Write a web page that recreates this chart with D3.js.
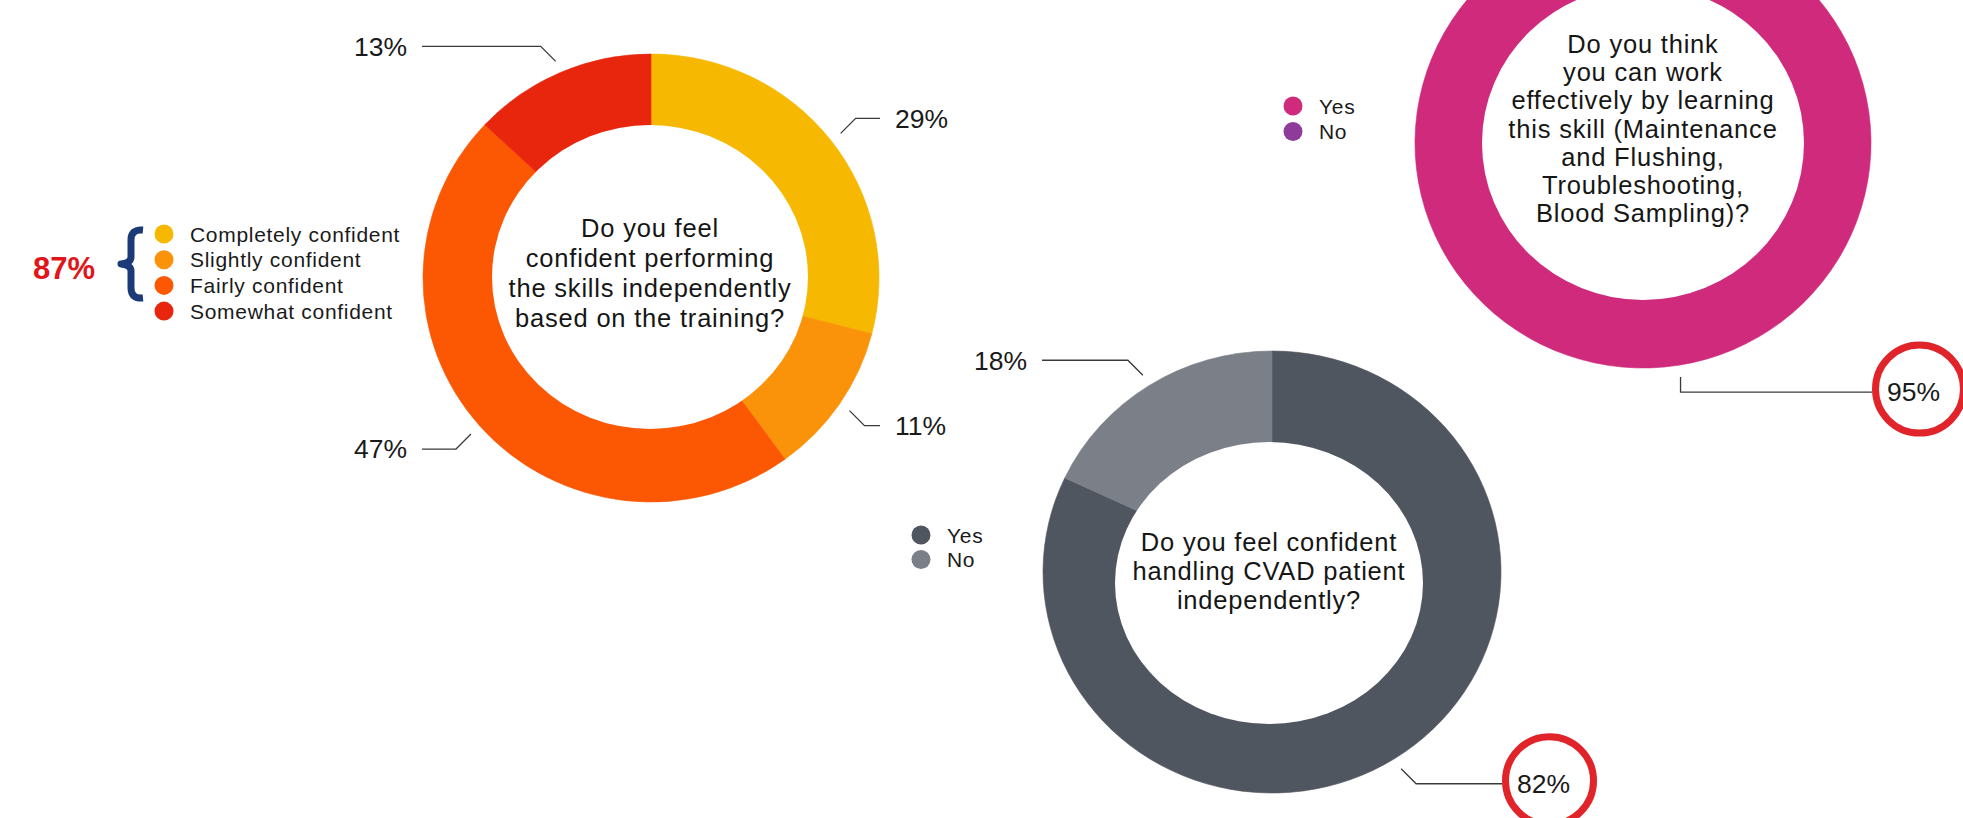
<!DOCTYPE html>
<html><head><meta charset="utf-8">
<script src="https://cdn.jsdelivr.net/npm/d3@7"></script>
<style>
html,body{margin:0;padding:0;background:#fff;}
svg{display:block;font-family:"Liberation Sans",Arial,Helvetica,sans-serif;}
</style>
</head><body>
<svg id="chart" width="1963" height="818"></svg>
<script>
// ---------------- data ----------------
const confidenceLevels = ["Completely confident", "Slightly confident", "Fairly confident", "Somewhat confident"];
const confidenceShares = [29, 11, 47, 13];
const confidenceQuestion = ["Do you feel", "confident performing", "the skills independently", "based on the training?"];
const confidentGroupTotal = "87%";

const cvadAnswers = ["Yes", "No"];
const cvadShares = [82, 18];
const cvadQuestion = ["Do you feel confident", "handling CVAD patient", "independently?"];

const skillAnswers = ["Yes", "No"];
const skillShares = [95, 5];
const skillQuestion = ["Do you think", "you can work", "effectively by learning", "this skill (Maintenance", "and Flushing,", "Troubleshooting,", "Blood Sampling)?"];

// ---------------- styles / layout ----------------
const confidenceColors = ["#F6B800", "#FA930A", "#FC5703", "#E8260E"];
const cvadColors = ["#50565F", "#7A7F88"];
const skillColors = ["#CF2A7C", "#8E3B9A"];

const charts = [
  { cats: confidenceLevels, vals: confidenceShares, colors: confidenceColors,
    cx: 651, cy: 278, rx: 228, ry: 224, hole: {dx: -1, dy: -1, rx: 158, ry: 152},
    question: confidenceQuestion, qFirst: -41, qGap: 30,
    labelled: confidenceLevels, ring: [], style: "elbow",
    legend: {x: 164, y: 234, step: 25.7} },
  { cats: cvadAnswers, vals: cvadShares, colors: cvadColors,
    cx: 1272, cy: 572, rx: 229, ry: 221, hole: {dx: -3, dy: 11, rx: 154, ry: 141},
    question: cvadQuestion, qFirst: -21, qGap: 29,
    labelled: cvadAnswers, ring: ["Yes"], style: "elbow",
    legend: {x: 921, y: 535, step: 24.5} },
  { cats: skillAnswers, vals: skillShares, colors: skillColors,
    cx: 1643, cy: 143, rx: 228, ry: 225, hole: {dx: 0, dy: 0, rx: 161, ry: 157},
    question: skillQuestion, qFirst: -90, qGap: 28.2,
    labelled: ["Yes"], ring: ["Yes"], style: "drop",
    legend: {x: 1293, y: 106, step: 25.5} }
];

const svg = d3.select("#chart");
svg.append("rect").attr("width", 1963).attr("height", 818).attr("fill", "#fff");

const pie = d3.pie().sort(null).value(d => d.v).startAngle(0).endAngle(2 * Math.PI);

charts.forEach(ch => {
  const data = ch.cats.map((c, i) => ({c, v: ch.vals[i], col: ch.colors[i]}));
  const arcs = pie(data);
  const arc = d3.arc().innerRadius(0).outerRadius(ch.ry);

  const g = svg.append("g")
    .attr("transform", `translate(${ch.cx},${ch.cy}) scale(${ch.rx / ch.ry},1)`);
  g.selectAll("path").data(arcs).join("path")
    .attr("d", arc)
    .attr("fill", d => d.data.col)
    .attr("stroke", d => d.data.col)
    .attr("stroke-width", 0.6);

  // hole
  svg.append("ellipse")
    .attr("cx", ch.cx + ch.hole.dx).attr("cy", ch.cy + ch.hole.dy)
    .attr("rx", ch.hole.rx).attr("ry", ch.hole.ry)
    .attr("fill", "#fff");

  // center question
  const t = svg.append("text")
    .attr("text-anchor", "middle")
    .attr("font-size", 25.5).attr("letter-spacing", 0.8)
    .attr("fill", "#161616");
  ch.question.forEach((line, i) => {
    t.append("tspan").attr("x", ch.cx + ch.hole.dx).attr("y", ch.cy + ch.qFirst + i * ch.qGap).text(line);
  });

  // labels with leader lines
  arcs.filter(a => ch.labelled.includes(a.data.c)).forEach(a => {
    const m = (a.startAngle + a.endAngle) / 2;
    const s = Math.sin(m), c = Math.cos(m);
    const x1 = ch.cx + (ch.rx + 12) * s, y1 = ch.cy - (ch.ry + 12) * c;
    const side = s >= 0 ? 1 : -1;
    let x2, y2;
    if (ch.style === "drop") { x2 = x1; y2 = y1 + 15; }
    else { x2 = x1 + side * 15; y2 = y1 + (c >= 0 ? -15 : 15); }
    const x3 = ch.cx + side * (ch.rx + 1);
    svg.append("path")
      .attr("d", d3.line()([[x1, y1], [x2, y2], [x3, y2]]))
      .attr("fill", "none").attr("stroke", "#3a3a3a").attr("stroke-width", 1.3);
    const lab = svg.append("text")
      .attr("x", ch.cx + side * (ch.rx + 16)).attr("y", y2).attr("dy", "0.35em")
      .attr("text-anchor", side > 0 ? "start" : "end")
      .attr("font-size", 26.5).attr("fill", "#1a1a1a")
      .text(a.data.v + "%");
    if (ch.ring.includes(a.data.c)) {
      svg.append("circle")
        .attr("cx", x3 + 47.5).attr("cy", y2 - 3).attr("r", 44)
        .attr("fill", "none").attr("stroke", "#E0242A").attr("stroke-width", 7);
      lab.raise();
    }
  });

  // legend
  const lg = svg.append("g");
  data.forEach((d, i) => {
    const y = ch.legend.y + i * ch.legend.step;
    lg.append("circle").attr("cx", ch.legend.x).attr("cy", y).attr("r", 9.5).attr("fill", d.col);
    lg.append("text").attr("x", ch.legend.x + 26).attr("y", y).attr("dy", "0.36em")
      .attr("font-size", 21).attr("letter-spacing", 0.7).attr("fill", "#1a1a1a").text(d.c);
  });
});

// bracket + group total for the first legend
svg.append("path")
  .attr("d", "M143,230 Q131,229 131,240 V257 Q131,263 121,264 Q131,265 131,271 V288 Q131,299 143,298")
  .attr("fill", "none").attr("stroke", "#1C3A78").attr("stroke-width", 7)
  .attr("stroke-linejoin", "round").attr("stroke-linecap", "butt");
svg.append("text")
  .attr("x", 95).attr("y", 279).attr("text-anchor", "end")
  .attr("font-size", 31).attr("font-weight", "bold").attr("fill", "#E0161B")
  .text(confidentGroupTotal);
</script>
</body></html>
